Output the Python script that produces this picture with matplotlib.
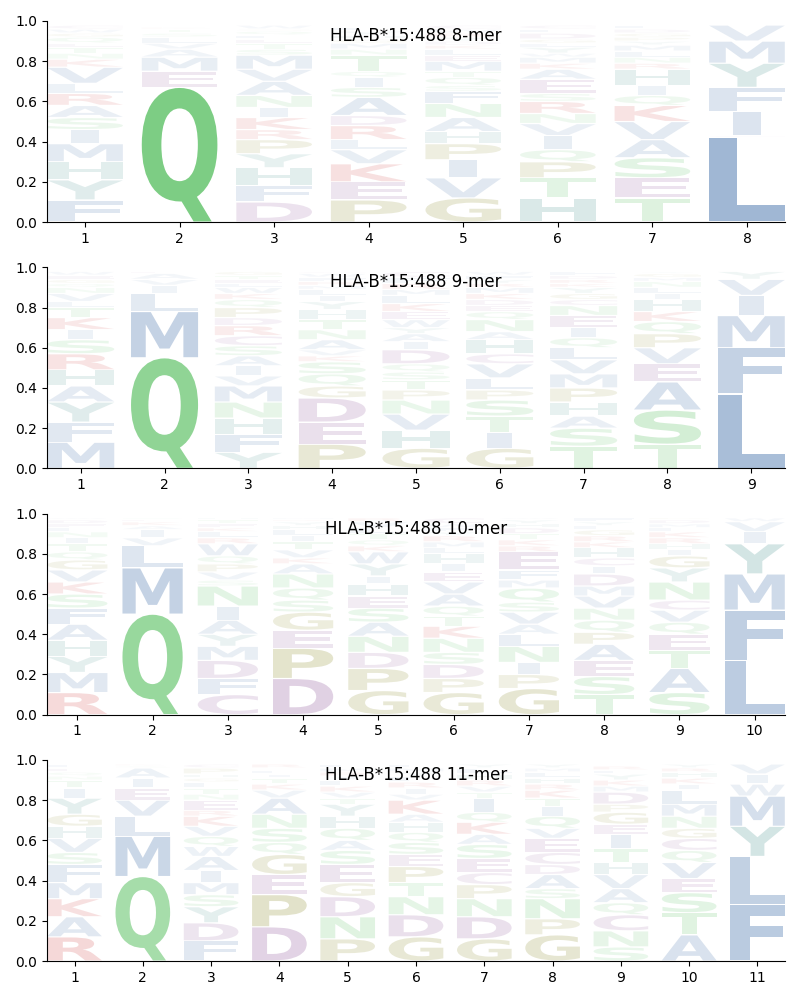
"""
Peptide-binding motif logos for HLA-B*15:488, one panel per peptide length.
"""

import matplotlib
matplotlib.use("Agg")
import matplotlib.pyplot as plt
from matplotlib.font_manager import FontProperties
from matplotlib.patches import PathPatch
from matplotlib.textpath import TextPath
from matplotlib.transforms import Affine2D

ALLELE = "HLA-B*15:488"
LENGTHS = [8, 9, 10, 11]

# letter frequencies per position, listed bottom -> top
MER8 = [
    [("F", .11), ("Y", .10), ("H", .09), ("M", .09), ("I", .07), ("S", .06), ("A", .06), ("R", .06),
     ("L", .05), ("V", .08), ("K", .04), ("N", .03), ("T", .03), ("E", .02), ("Q", .03), ("G", .02),
     ("W", .02), ("C", .02)],
    [("Q", .67), ("E", .08), ("M", .07), ("A", .04), ("V", .03), ("L", .03), ("S", .02), ("T", .02),
     ("K", .01), ("I", .01)],
    [("D", .10), ("F", .08), ("H", .09), ("Y", .07), ("P", .07), ("R", .05), ("K", .06), ("I", .05),
     ("N", .06), ("A", .07), ("V", .06), ("M", .07), ("S", .03), ("T", .03), ("E", .02), ("L", .02),
     ("Q", .02), ("G", .01), ("W", .02)],
    [("P", .11), ("E", .09), ("K", .09), ("V", .07), ("L", .05), ("R", .07), ("D", .05), ("A", .09),
     ("S", .05), ("I", .05), ("Q", .03), ("T", .08), ("N", .03), ("M", .03), ("G", .02), ("H", .02),
     ("Y", .02), ("F", .02)],
    [("G", .12), ("V", .10), ("I", .09), ("P", .08), ("H", .06), ("A", .07), ("N", .07), ("F", .06),
     ("S", .03), ("Q", .04), ("T", .03), ("M", .05), ("E", .03), ("L", .03), ("K", .02), ("D", .02),
     ("Y", .02), ("R", .02), ("W", .02), ("C", .02)],
    [("H", .12), ("T", .10), ("P", .08), ("Q", .06), ("I", .07), ("V", .06), ("N", .05), ("R", .06),
     ("S", .04), ("E", .07), ("A", .05), ("K", .03), ("M", .03), ("W", .02), ("Y", .03), ("L", .02),
     ("G", .02), ("D", .03), ("F", .02), ("C", .02)],
    [("T", .12), ("E", .10), ("S", .10), ("A", .09), ("V", .09), ("K", .08), ("Q", .05), ("I", .05),
     ("H", .08), ("R", .03), ("N", .03), ("L", .03), ("M", .03), ("Y", .02), ("P", .02), ("G", .02),
     ("D", .02), ("F", .02)],
    [("L", .42), ("C", .01), ("I", .12), ("F", .12), ("Y", .12), ("M", .11), ("V", .08)],
]

MER9 = [
    [("M", .13), ("F", .10), ("Y", .10), ("A", .08), ("H", .08), ("R", .08), ("S", .07), ("I", .05),
     ("K", .06), ("T", .05), ("L", .03), ("V", .04), ("N", .03), ("Q", .02), ("G", .02), ("E", .02),
     ("W", .02)],
    [("Q", .55), ("M", .23), ("L", .09), ("I", .04), ("V", .03), ("A", .03), ("E", .01)],
    [("Y", .08), ("F", .09), ("H", .08), ("N", .08), ("M", .08), ("V", .05), ("I", .05), ("A", .05),
     ("S", .05), ("C", .05), ("R", .05), ("D", .04), ("P", .05), ("Q", .04), ("K", .03), ("W", .03),
     ("L", .02), ("E", .02), ("T", .02), ("G", .02)],
    [("P", .12), ("E", .11), ("D", .12), ("G", .06), ("Q", .06), ("S", .06), ("K", .03), ("V", .03),
     ("A", .05), ("N", .05), ("T", .05), ("H", .05), ("Y", .04), ("I", .03), ("L", .03), ("M", .02),
     ("R", .02), ("F", .02), ("W", .02), ("C", .01)],
    [("G", .10), ("H", .09), ("V", .08), ("N", .07), ("P", .05), ("T", .05), ("S", .04), ("Q", .04),
     ("D", .07), ("I", .04), ("A", .04), ("Y", .03), ("W", .04), ("E", .04), ("K", .04), ("L", .04),
     ("M", .03), ("R", .03), ("F", .03), ("C", .03)],
    [("G", .10), ("I", .08), ("T", .08), ("S", .08), ("P", .05), ("L", .06), ("V", .07), ("C", .05),
     ("H", .07), ("A", .04), ("N", .06), ("Q", .04), ("E", .03), ("D", .03), ("K", .03), ("M", .03),
     ("R", .02), ("Y", .02), ("F", .02), ("W", .02)],
    [("T", .11), ("S", .09), ("A", .06), ("H", .07), ("P", .07), ("M", .07), ("V", .07), ("L", .06),
     ("Q", .05), ("I", .05), ("E", .06), ("N", .05), ("C", .03), ("G", .03), ("Y", .03), ("K", .02),
     ("R", .02), ("D", .02), ("F", .02)],
    [("T", .12), ("S", .17), ("A", .14), ("E", .09), ("V", .08), ("P", .07), ("Q", .06), ("K", .05),
     ("H", .06), ("I", .03), ("L", .03), ("N", .03), ("M", .02), ("G", .02), ("Y", .01)],
    [("L", .37), ("F", .23), ("M", .16), ("I", .10), ("V", .08), ("Y", .04)],
]

MER10 = [
    [("R", .11), ("M", .10), ("Y", .08), ("H", .08), ("A", .08), ("F", .08), ("S", .07), ("K", .06),
     ("V", .06), ("G", .05), ("Q", .04), ("T", .04), ("I", .03), ("N", .03), ("L", .02), ("E", .02),
     ("D", .02), ("W", .01)],
    [("Q", .50), ("M", .23), ("L", .11), ("V", .04), ("I", .04), ("A", .02), ("K", .02), ("E", .01),
     ("S", .01)],
    [("C", .10), ("F", .08), ("D", .09), ("M", .07), ("Y", .06), ("A", .07), ("I", .07), ("N", .10),
     ("S", .03), ("V", .04), ("P", .04), ("Q", .04), ("W", .06), ("R", .03), ("L", .03), ("K", .02),
     ("E", .02), ("T", .02), ("H", .01)],
    [("D", .18), ("P", .15), ("E", .09), ("G", .09), ("S", .06), ("Q", .06), ("N", .07), ("A", .05),
     ("K", .03), ("V", .04), ("T", .04), ("I", .03), ("L", .03), ("H", .02), ("Y", .02), ("R", .01),
     ("M", .01)],
    [("G", .12), ("P", .11), ("D", .08), ("N", .08), ("A", .07), ("S", .07), ("E", .06), ("H", .06),
     ("I", .04), ("Y", .06), ("W", .06), ("K", .03), ("Q", .03), ("T", .03), ("L", .03), ("V", .03),
     ("R", .02)],
    [("G", .11), ("P", .07), ("D", .07), ("S", .06), ("N", .07), ("K", .06), ("T", .05), ("Q", .05),
     ("A", .06), ("V", .06), ("E", .05), ("I", .04), ("H", .05), ("L", .03), ("M", .03), ("R", .03),
     ("Y", .02), ("F", .02), ("W", .02), ("C", .03)],
    [("G", .13), ("P", .07), ("I", .06), ("N", .08), ("L", .06), ("A", .05), ("V", .06), ("S", .05),
     ("Q", .07), ("M", .04), ("F", .05), ("E", .09), ("R", .03), ("K", .03), ("T", .03), ("D", .03),
     ("H", .02), ("Y", .02), ("W", .01)],
    [("T", .10), ("S", .09), ("E", .08), ("A", .08), ("P", .06), ("Q", .06), ("N", .06), ("V", .06),
     ("M", .05), ("D", .06), ("I", .04), ("C", .04), ("H", .05), ("K", .03), ("R", .03), ("G", .03),
     ("L", .02), ("Y", .02), ("F", .02)],
    [("S", .11), ("A", .12), ("T", .09), ("E", .08), ("Q", .06), ("V", .06), ("C", .05), ("N", .09),
     ("Y", .07), ("G", .06), ("I", .03), ("H", .03), ("R", .03), ("K", .03), ("L", .02), ("M", .02),
     ("D", .02), ("P", .01)],
    [("L", .27), ("F", .25), ("M", .18), ("Y", .15), ("I", .06), ("V", .05), ("W", .02)],
]

MER11 = [
    [("R", .12), ("A", .10), ("K", .09), ("M", .08), ("F", .09), ("S", .06), ("V", .07), ("H", .06),
     ("G", .06), ("Y", .08), ("I", .05), ("T", .04), ("N", .02), ("Q", .02), ("E", .02), ("L", .02)],
    [("Q", .42), ("M", .20), ("L", .10), ("V", .08), ("E", .06), ("I", .05), ("A", .05), ("S", .01),
     ("K", .01)],
    [("F", .10), ("D", .09), ("Y", .08), ("S", .06), ("M", .06), ("I", .06), ("A", .07), ("W", .05),
     ("Q", .05), ("V", .05), ("K", .05), ("R", .03), ("E", .05), ("N", .03), ("T", .03), ("L", .03),
     ("G", .02), ("H", .02), ("P", .03), ("C", .02)],
    [("D", .17), ("P", .16), ("E", .10), ("G", .10), ("Q", .06), ("S", .07), ("N", .07), ("A", .08),
     ("V", .04), ("K", .03), ("T", .03), ("I", .02), ("L", .02), ("H", .01), ("R", .02)],
    [("P", .11), ("N", .11), ("D", .10), ("G", .07), ("E", .09), ("S", .07), ("A", .05), ("Q", .06),
     ("H", .06), ("Y", .06), ("T", .03), ("V", .03), ("K", .03), ("L", .03), ("I", .02), ("R", .02),
     ("M", .02), ("F", .02)],
    [("G", .12), ("D", .11), ("N", .09), ("T", .07), ("P", .08), ("E", .06), ("S", .06), ("Q", .05),
     ("H", .05), ("A", .04), ("K", .07), ("V", .03), ("I", .03), ("R", .03), ("L", .03), ("Y", .02),
     ("M", .02), ("F", .02)],
    [("G", .11), ("D", .11), ("N", .09), ("P", .07), ("C", .06), ("E", .07), ("S", .07), ("A", .05),
     ("K", .06), ("Q", .05), ("I", .07), ("T", .03), ("V", .03), ("R", .03), ("H", .03), ("L", .03),
     ("Y", .02)],
    [("G", .13), ("P", .08), ("N", .10), ("S", .05), ("A", .07), ("D", .05), ("C", .06), ("E", .07),
     ("V", .05), ("Q", .06), ("I", .05), ("T", .04), ("K", .04), ("R", .03), ("H", .03), ("L", .03),
     ("M", .02), ("Y", .02)],
    [("S", .07), ("N", .08), ("C", .08), ("Q", .06), ("A", .07), ("V", .07), ("H", .06), ("T", .07),
     ("I", .07), ("E", .05), ("G", .06), ("P", .04), ("D", .06), ("M", .03), ("K", .03), ("Y", .03),
     ("L", .02), ("R", .02), ("F", .01)],
    [("A", .13), ("T", .11), ("S", .10), ("E", .07), ("V", .08), ("Q", .06), ("C", .06), ("G", .05),
     ("N", .06), ("M", .06), ("L", .07), ("I", .03), ("K", .03), ("H", .03), ("R", .02), ("Y", .02)],
    [("F", .28), ("L", .24), ("Y", .15), ("M", .15), ("W", .06), ("I", .05), ("V", .05)],
]

LOGOS = [MER8, MER9, MER10, MER11]

# residue classes -> colour
BLUE, GREEN, RED = "#416fa9", "#4cbb55", "#cc2e2e"
PURPLE, OLIVE, TEAL = "#884c94", "#84841b", "#3a8a86"
COLORS = {}
for aa in "AVLIMFW":
    COLORS[aa] = BLUE
for aa in "STNQ":
    COLORS[aa] = GREEN
for aa in "KR":
    COLORS[aa] = RED
for aa in "DEC":
    COLORS[aa] = PURPLE
for aa in "GP":
    COLORS[aa] = OLIVE
for aa in "HY":
    COLORS[aa] = TEAL

FONT = FontProperties(family="DejaVu Sans", weight="bold")
LETTER_WIDTH = 0.8
NARROW = {"I": 0.37}   # I keeps a slim box instead of a full-width block
GAP = 0.006


def draw_letter(ax, letter, x, y0, h):
    path = TextPath((0, 0), letter, size=1, prop=FONT)
    bb = path.get_extents()
    w = LETTER_WIDTH * NARROW.get(letter, 1.0)
    gh = max(h - GAP, 0.002)
    tr = (Affine2D()
          .translate(-bb.x0, -bb.y0)
          .scale(w / bb.width, gh / bb.height)
          .translate(x - w / 2, y0 + GAP / 2))
    alpha = min(1.0, h ** 0.8)
    patch = PathPatch(tr.transform_path(path), facecolor=COLORS[letter],
                      edgecolor="none", alpha=alpha)
    ax.add_patch(patch)


def draw_logo(ax, stacks, title):
    for i, stack in enumerate(stacks):
        x = i + 1
        y = 0.0
        for letter, h in stack:
            draw_letter(ax, letter, x, y, h)
            y += h
    n = len(stacks)
    ax.set_xlim(0.6, n + 0.4)
    ax.set_ylim(0, 1)
    ax.set_xticks(range(1, n + 1))
    ax.set_yticks([0, 0.2, 0.4, 0.6, 0.8, 1.0])
    ax.spines["top"].set_visible(False)
    ax.spines["right"].set_visible(False)
    ax.text(0.5, 0.925, title, transform=ax.transAxes, ha="center", va="center",
            fontsize=12, zorder=10)


def main():
    fig, axes = plt.subplots(4, 1, figsize=(8, 10), dpi=100)
    fig.subplots_adjust(left=0.059, right=0.981, top=0.979, bottom=0.039, hspace=0.225)
    for ax, stacks, n in zip(axes, LOGOS, LENGTHS):
        draw_logo(ax, stacks, f"{ALLELE} {n}-mer")
    fig.savefig("out.png", dpi=100)
    plt.close(fig)


if __name__ == "__main__":
    main()
